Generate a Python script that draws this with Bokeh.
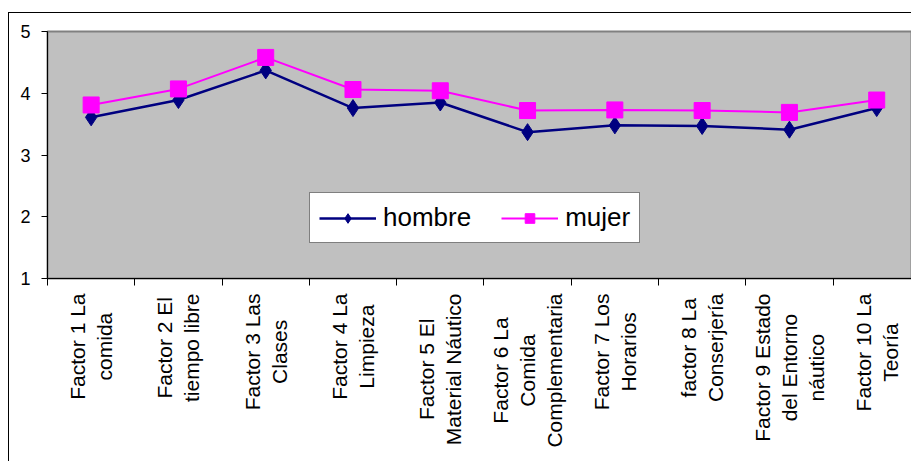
from bokeh.plotting import figure
from bokeh.models import Range1d, FixedTicker, Legend, LegendItem
from bokeh.layouts import column
from bokeh.core.properties import value
from bokeh.embed import file_html
from bokeh.resources import INLINE
import math

categories = [
    "Factor 1 La\ncomida",
    "Factor 2 El\ntiempo libre",
    "Factor 3 Las\nClases",
    "Factor 4 La\nLimpieza",
    "Factor 5 El\nMaterial Náutico",
    "Factor 6 La\nComida\nComplementaria",
    "Factor 7 Los\nHorarios",
    "factor 8 La\nConserjería",
    "Factor 9 Estado\ndel Entorno\nnáutico",
    "Factor 10 La\nTeoría",
]
hombre = [3.61, 3.89, 4.37, 3.76, 3.85, 3.37, 3.48, 3.47, 3.41, 3.76]
mujer = [3.81, 4.07, 4.58, 4.06, 4.04, 3.72, 3.73, 3.72, 3.69, 3.89]
y_ticks = [1, 2, 3, 4, 5]

xs = [i + 0.5 for i in range(len(categories))]
FONT = "Liberation Sans"
CAT_FS = 21
LINE_STEP = 27
WIDTH = 903
TOP_H = 275
BOT_H = 173

# Arial / Liberation Sans advance widths (1/1000 em) to centre rotated labels
W = {"F": 611, "a": 556, "c": 500, "t": 278, "o": 556, "r": 333, " ": 278,
     "L": 556, "m": 833, "i": 222, "d": 556, "E": 667, "l": 222, "e": 556,
     "p": 556, "b": 556, "C": 722, "s": 500, "z": 500, "M": 833, "N": 722,
     "á": 556, "u": 556, "n": 556, "H": 722, "f": 278, "j": 222, "í": 278,
     "T": 611}


def text_px(s):
    return sum(W.get(ch, 556) for ch in s) * CAT_FS / 1000.0


xr = Range1d(0, 9.91)

p = figure(width=WIDTH, height=TOP_H, output_backend="svg", toolbar_location=None,
           x_range=xr, y_range=Range1d(1, 5),
           min_border_left=38, min_border_right=0, min_border_top=18,
           min_border_bottom=10)
p.background_fill_color = "#C0C0C0"
p.border_fill_color = "white"
p.outline_line_color = "#808080"
p.outline_line_width = 2
p.xgrid.visible = False
p.ygrid.visible = False

# y axis
p.yaxis.ticker = FixedTicker(ticks=y_ticks, minor_ticks=[])
p.yaxis.major_tick_in = 0
p.yaxis.major_tick_out = 6
p.yaxis.major_label_standoff = 11
p.yaxis.major_label_text_font = FONT
p.yaxis.major_label_text_font_size = "18px"
p.yaxis.major_label_text_color = "black"
p.yaxis.axis_line_color = "black"

# x axis: tick marks on category boundaries only
p.xaxis.ticker = FixedTicker(ticks=[], minor_ticks=list(range(len(categories) + 1)))
p.xaxis.major_tick_line_color = None
p.xaxis.minor_tick_in = 0
p.xaxis.minor_tick_out = 7
p.xaxis.minor_tick_line_color = "black"
p.xaxis.axis_line_color = "black"

lh = p.line(xs, hombre, line_color="#000080", line_width=2.5)
sh = p.scatter(xs, hombre, marker="diamond", size=17, fill_color="#000080",
               line_color="#000080")
lm = p.line(xs, mujer, line_color="#FF00FF", line_width=2)
sm = p.scatter(xs, mujer, marker="square", size=16, fill_color="#FF00FF",
               line_color="#FF00FF")

legend = Legend(items=[LegendItem(label="hombre", renderers=[lh, sh]),
                       LegendItem(label="mujer", renderers=[lm, sm])],
                orientation="horizontal", location=(262, 35))
legend.label_text_font = FONT
legend.label_text_font_size = "26px"
legend.label_text_color = "black"
legend.border_line_color = "black"
legend.border_line_width = 1
legend.background_fill_color = "white"
legend.background_fill_alpha = 1
legend.glyph_width = 57
legend.glyph_height = 24
legend.label_standoff = 7
legend.spacing = 30
legend.padding = 9
legend.margin = 0
p.add_layout(legend, "center")

# category label strip: rotated lines, each centred on its block,
# block top 15px below the axis line
gap_top = 15 - (TOP_H - 18 - 247)   # axis sits 10px above the strip
lx, ly, lt, lo = [], [], [], []
for cx, cat in zip(xs, categories):
    lines = cat.split("\n")
    block = max(text_px(line) for line in lines)
    cy = BOT_H - gap_top - block / 2.0
    n = len(lines)
    for i, line in enumerate(lines):
        lx.append(cx)
        ly.append(cy)
        lt.append(line)
        lo.append((i - (n - 1) / 2.0) * LINE_STEP)

q = figure(width=WIDTH, height=BOT_H, output_backend="svg", toolbar_location=None,
           x_range=xr, y_range=Range1d(0, BOT_H), x_axis_type=None,
           y_axis_type=None, min_border_left=38, min_border_right=0,
           min_border_top=0, min_border_bottom=0)
q.outline_line_color = None
q.background_fill_color = "white"
q.border_fill_color = "white"
q.xgrid.visible = False
q.ygrid.visible = False
q.text(x=lx, y=ly, text=lt, x_offset=lo, angle=math.pi / 2,
       text_align="center", text_baseline="middle", text_font=value(FONT),
       text_font_size=f"{CAT_FS}px", text_color="black")

layout = column(p, q, spacing=0)
layout.styles = {"border-top": "1px solid black", "border-left": "1px solid black",
                 "margin-top": "12px", "margin-left": "8px"}

open("out.html", "w").write(file_html(layout, INLINE))
